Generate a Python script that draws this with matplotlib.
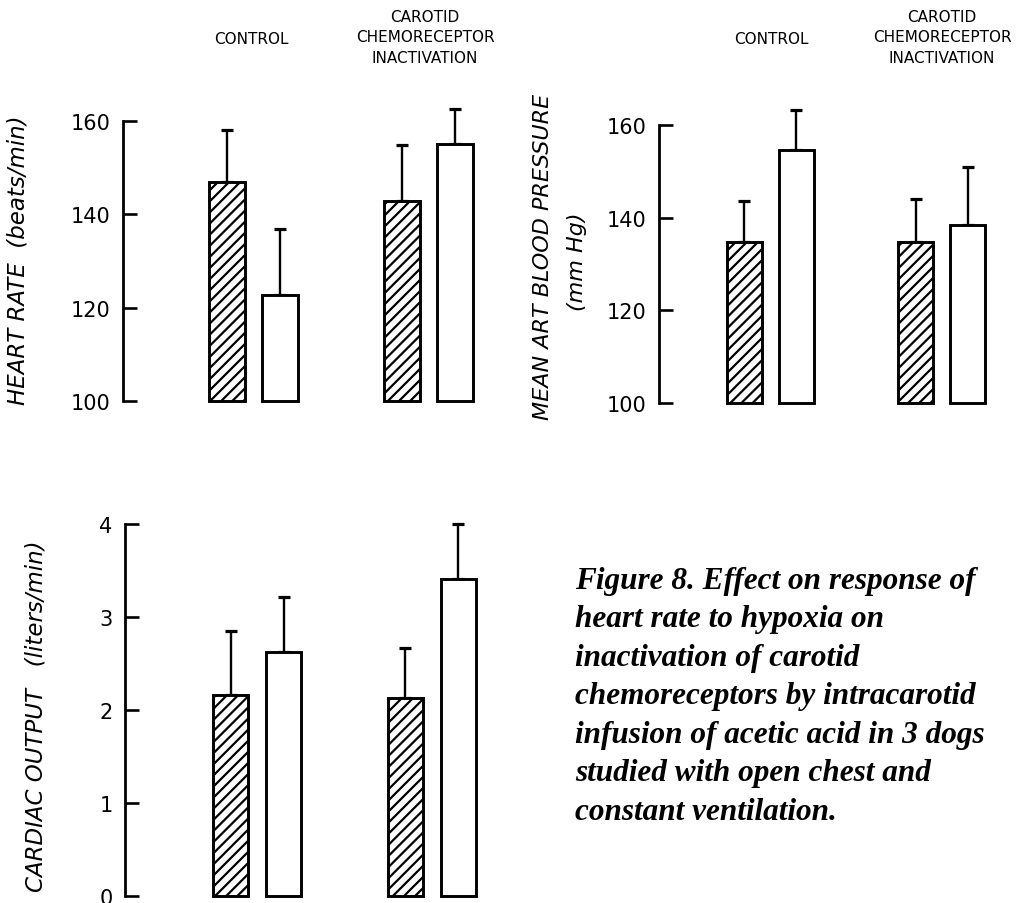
"""Figure 8 - heart rate / blood pressure / cardiac output, control vs carotid inactivation"""
import matplotlib
matplotlib.use("Agg")
import matplotlib.pyplot as plt

W, H = 1023, 904

# --- data (mean, upper error) ---
hr_mean = [147, 122.7, 142.9, 155]
hr_err = [11, 14.2, 12, 7.6]
bp_mean = [134.8, 154.6, 134.8, 138.4]
bp_err = [8.8, 8.7, 9.2, 12.6]
co_mean = [2.16, 2.62, 2.13, 3.41]
co_err = [0.69, 0.6, 0.54, 0.59]

hr_ticks = [100, 120, 140, 160]
bp_ticks = [100, 120, 140, 160]
co_ticks = [0, 1, 2, 3, 4]
co_ticklabels = ["0", "1", "2", "3", "4"]

group_headers = ["CONTROL", "CAROTID\nCHEMORECEPTOR\nINACTIVATION"]
caption = ("Figure 8. Effect on response of\n"
           "heart rate to hypoxia on\n"
           "inactivation of carotid\n"
           "chemoreceptors by intracarotid\n"
           "infusion of acetic acid in 3 dogs\n"
           "studied with open chest and\n"
           "constant ventilation.")

matplotlib.rcParams["hatch.linewidth"] = 1.6
matplotlib.rcParams["font.family"] = "DejaVu Sans"

x_pos = [0, 1, 3.3, 4.3]
hatches = ["///", "", "///", ""]

fig = plt.figure(figsize=(W / 100, H / 100), dpi=100)


def panel(left, top, right, bottom, xlim, ylim, means, errs, ticks, labels=None):
    ax = fig.add_axes([left / W, 1 - bottom / H, (right - left) / W, (bottom - top) / H])
    ax.set_xlim(*xlim)
    ax.set_ylim(*ylim)
    for x, m, h in zip(x_pos, means, hatches):
        b = ax.bar(x, m - ylim[0], bottom=ylim[0], width=0.67, color="white",
                   edgecolor="black", linewidth=2.1, hatch=h, zorder=2)
        for p in b:
            p.set_clip_on(False)
    eb = ax.errorbar(x_pos, means, yerr=[[0] * 4, errs], fmt="none", ecolor="black",
                     elinewidth=1.7, capsize=4, capthick=2.3, zorder=1)
    for art in eb.get_children():
        art.set_clip_on(False)
    for s in ["top", "right", "bottom"]:
        ax.spines[s].set_visible(False)
    ax.spines["left"].set_linewidth(2)
    ax.set_xticks([])
    ax.set_yticks(ticks)
    if labels:
        ax.set_yticklabels(labels)
    ax.tick_params(axis="y", direction="in", length=10, width=1.9, pad=9, labelsize=15)
    return ax


panel(123, 122, 494, 402, (-1.96, 5.04), (100, 160), hr_mean, hr_err, hr_ticks)
panel(659, 126, 1010, 404, (-1.64, 5.11), (100, 160), bp_mean, bp_err, bp_ticks)
panel(125, 525, 494, 897, (-1.99, 4.97), (0, 4), co_mean, co_err, co_ticks, co_ticklabels)

# group headers
for cx in [251, 771]:
    fig.text(cx / W, 1 - 39 / H, group_headers[0], ha="center", va="center", fontsize=11)
for cx in [425, 942]:
    fig.text(cx / W, 1 - 38 / H, group_headers[1], ha="center", va="center", fontsize=11,
             linespacing=1.45)

# y labels
fig.text(18 / W, 1 - 260 / H, "HEART RATE  (beats/min)", rotation=90, ha="center",
         va="center", fontsize=16.5, style="italic")
fig.text(543 / W, 1 - 257 / H, "MEAN ART BLOOD PRESSURE", rotation=90, ha="center",
         va="center", fontsize=16, style="italic")
fig.text(577 / W, 1 - 262 / H, "(mm Hg)", rotation=90, ha="center",
         va="center", fontsize=16, style="italic")
fig.text(36 / W, 1 - 716 / H, "CARDIAC OUTPUT   (liters/min)", rotation=90, ha="center",
         va="center", fontsize=16.5, style="italic")

# caption
fig.text(575 / W, 1 - 567 / H, caption, ha="left", va="top", fontsize=22.5,
         family="Liberation Serif", weight="bold", style="italic", linespacing=1.43)

fig.savefig("out.png", dpi=100)
